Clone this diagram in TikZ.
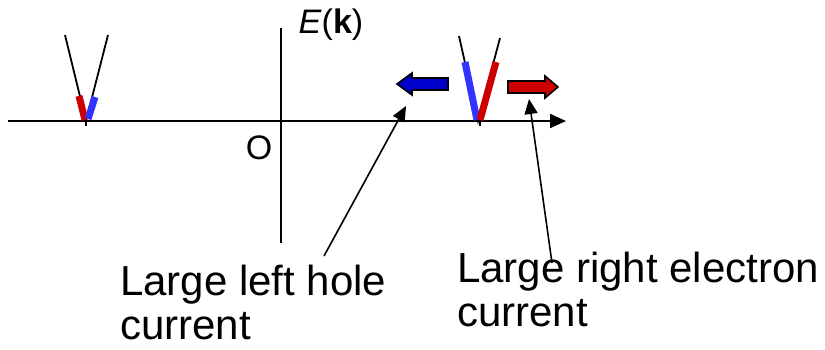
\documentclass[tikz,border=0pt]{standalone}
\usepackage{fontspec}
\setmainfont{Liberation Sans}
\usetikzlibrary{arrows.meta}
\definecolor{bandblue}{RGB}{51,51,255}
\definecolor{bandred}{RGB}{204,0,0}
\definecolor{flowblue}{RGB}{0,0,204}
\tikzset{
  axisline/.style = {line width=2.2pt},
  bandline/.style = {line width=1.8pt},
  holeband/.style = {line width=7pt, draw=bandblue},
  elecband/.style = {line width=7pt, draw=bandred},
  flowarrow/.style = {draw=black, line width=1.6pt, line join=miter},
  pointer/.style = {-{Triangle[length=15pt, width=13pt]}, line width=1.6pt},
  bigtext/.style = {font=\fontsize{42}{44}\selectfont, align=left, inner sep=0pt},
  axtext/.style = {font=\fontsize{34}{36}\selectfont, inner sep=0pt}
}

\begin{document}
\begin{tikzpicture}[x=1pt, y=-1pt]
\useasboundingbox (0,0) rectangle (825,350);

% axes
\coordinate (xstart) at (8,121);
\coordinate (xend) at (566,121);
\coordinate (ytop) at (281,28);
\coordinate (ybot) at (281,243);
\draw[axisline, -{Triangle[length=16pt, width=14pt]}] (xstart) -- (xend);
\draw[bandline] (ytop) -- (ybot);
\node[axtext] (ek) at (331,25) {\textit{E}(\textbf{k})};
\node[axtext] (orig) at (259,148) {O};

% left valley
\coordinate (lv) at (86,121);
\draw[bandline] (65,35) -- (lv) -- (108,35);
\draw[line width=1.5pt] (lv) -- (86,126);
\draw[elecband] (79,96) -- (85,120);
\draw[holeband] (95,97) -- (88,119);

% right valley
\coordinate (rv) at (478,121);
\draw[bandline] (459,36) -- (rv) -- (500,38);
\draw[line width=1.5pt] (480,119) -- (480,126);
\draw[holeband] (465,62) -- (477,120);
\draw[elecband] (496,62) -- (480,120);

% current arrows
\draw[flowarrow, fill=flowblue] (397,84) -- (412,73) -- (412,78) -- (448,78)
  -- (448,90) -- (412,90) -- (412,95) -- cycle;
\draw[flowarrow, fill=bandred] (558,87) -- (545,76) -- (545,81) -- (508,81)
  -- (508,93) -- (545,93) -- (545,98) -- cycle;

% labels (base = last line)
\node[bigtext, anchor=base west] (holetext) at (120,339) {Large left hole\\current};
\node[bigtext, anchor=base west] (electext) at (457,326) {Large right electron\\current};
\coordinate (holetail) at (324,256);
\coordinate (holetip) at (406,106);
\coordinate (electail) at (552,263);
\coordinate (electip) at (529,99);
\draw[pointer] (holetail) -- (holetip);
\draw[pointer] (electail) -- (electip);
\end{tikzpicture}
\end{document}
